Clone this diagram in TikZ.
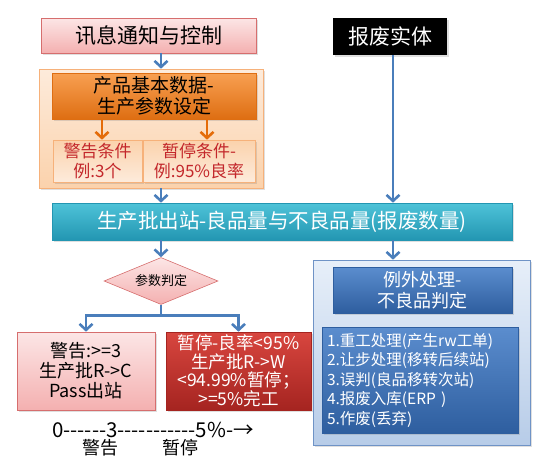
\documentclass[tikz,border=0pt]{standalone}
\usepackage{fontspec}
\setmainfont{Noto Sans CJK SC}
\usepackage{xcolor}
\usetikzlibrary{positioning}
\usetikzlibrary{arrows.meta}
\usetikzlibrary{shapes.geometric}
\usetikzlibrary{shadows}

\definecolor{flowblue}{HTML}{4A7EBB}
\definecolor{floworange}{HTML}{E46C0A}
\definecolor{pinktop}{HTML}{FCE6E6}
\definecolor{pinkbot}{HTML}{F4B0B0}
\definecolor{pinkline}{HTML}{D66E6E}
\definecolor{paletop}{HTML}{FDEBDB}
\definecolor{palebot}{HTML}{FBD2AC}
\definecolor{paleline}{HTML}{F6B17A}
\definecolor{ortop}{HTML}{F8A052}
\definecolor{orbot}{HTML}{DE6E12}
\definecolor{condred}{HTML}{C3272B}
\definecolor{cyantop}{HTML}{4EC3D8}
\definecolor{cyanbot}{HTML}{2396B2}
\definecolor{redtop}{HTML}{D8463F}
\definecolor{redbot}{HTML}{A52420}
\definecolor{ltbluetop}{HTML}{E7EFF9}
\definecolor{ltbluebot}{HTML}{B7CCE8}
\definecolor{ltblueline}{HTML}{6F93C6}
\definecolor{bluetop}{HTML}{5B8DCE}
\definecolor{bluebot}{HTML}{2E5E9F}

\newcommand{\fsz}[2]{\fontsize{#1}{#2}\selectfont}

\begin{document}
\begin{tikzpicture}[
  x=1pt, y=-1pt,
  line width=0.6pt,
  box/.style={rectangle, inner sep=0pt, align=center,
    drop shadow={opacity=0.25, shadow xshift=1.5pt, shadow yshift=-1.5pt}},
  pinkbox/.style={box, top color=pinktop, bottom color=pinkbot, draw=pinkline},
  palebox/.style={box, top color=paletop, bottom color=palebot, draw=paleline},
  orangebox/.style={box, top color=ortop, bottom color=orbot, draw=orbot},
  condbox/.style={box, top color=palebot, bottom color=paletop, draw=paleline,
    text=condred, font=\fsz{17}{20}},
  cyanbox/.style={box, top color=cyantop, bottom color=cyanbot, draw=cyanbot,
    text=white},
  redbox/.style={box, top color=redtop, bottom color=redbot, draw=redbot,
    text=white, font=\fsz{17.5}{18.5}},
  ltbluebox/.style={box, top color=ltbluetop, bottom color=ltbluebot,
    draw=ltblueline},
  bluebox/.style={box, top color=bluetop, bottom color=bluebot, draw=bluebot,
    text=white},
  flow/.style={draw=flowblue, line width=2.8pt,
    -{Straight Barb[length=6pt, width=13pt, line width=2.6pt]}},
  oflow/.style={flow, draw=floworange},
  ]

  % page size
  \useasboundingbox (0,0) rectangle (554,469);

  % top left: message and parameter setting
  \node[pinkbox, minimum width=215, minimum height=35, font=\fsz{21}{24}]
    (info) at (148.5,35.5) {讯息通知与控制};
  \node[palebox, minimum width=224, minimum height=119]
    (params) at (151,128.5) {};
  \node[orangebox, minimum width=204, minimum height=46, font=\fsz{19}{21}]
    (paramtitle) at (154,96) {产品基本数据-\\生产参数设定};
  \node[condbox, minimum width=89, minimum height=42]
    (warncond) at (97.5,161) {警告条件\\例:3个};
  \node[condbox, minimum width=112, minimum height=42]
    (stopcond) at (199,161) {暂停条件-\\例:95\%良率};

  % top right: scrapped parts
  \node[box, fill=black, text=white, minimum width=114, minimum height=37,
    font=\fsz{21}{24}] (scrap) at (390,36.5) {报废实体};

  % station out
  \node[cyanbox, minimum width=460, minimum height=37, font=\fsz{20.5}{24}]
    (station) at (282,221.5) {生产批出站-良品量与不良品量(报废数量)};

  % parameter check
  \node[diamond, aspect=2.4, inner sep=0pt, minimum width=114, minimum height=47,
    top color=pinktop, bottom color=pinkbot, draw=pinkline, font=\fsz{13}{15}]
    (judge) at (161,281) {参数判定};
  \node[pinkbox, minimum width=138, minimum height=78, font=\fsz{18}{20}]
    (warnbox) at (86,371) {警告:>=3\\生产批R->C\\Pass出站};
  \node[redbox, minimum width=145, minimum height=78]
    (stopbox) at (238.5,371)
    {暂停-良率<95\%\\生产批R->W\\<94.99\%暂停；\\>=5\%完工};

  % exceptions
  \node[ltbluebox, minimum width=217, minimum height=185]
    (except) at (421.5,352.5) {};
  \node[bluebox, minimum width=179, minimum height=46, font=\fsz{18}{21}]
    (excepttitle) at (422.5,290) {例外处理-\\不良品判定};
  \node[bluebox, minimum width=196, minimum height=106, font=\fsz{15.5}{19.5},
    align=left, text width=186] (exceptlist) at (420,380)
    {1.重工处理(产生rw工单)\\2.让步处理(移转后续站)\\3.误判(良品移转次站)\\
     4.报废入库(ERP )\\5.作废(丢弃)};

  % scale
  \node[font=\fsz{20.5}{22}] (scale) at (153,430)
    {0-{}-{}-{}-{}-{}-3-{}-{}-{}-{}-{}-{}-{}-{}-{}-{}-5\%-→};
  \node[font=\fsz{18}{20}] (scalewarn) at (100,448) {警告};
  \node[font=\fsz{18}{20}] (scalestop) at (180,448) {暂停};

  % arrows
  \draw[flow] (info.south -| judge) -- (params.north -| judge);
  \draw[flow] (params.south -| judge) -- (station.north -| judge);
  \draw[flow] (station.south -| judge) -- (judge.north);
  \draw[oflow] (paramtitle.south -| 102,0) -- (warncond.north -| 102,0);
  \draw[oflow] (paramtitle.south -| 207,0) -- (stopcond.north -| 207,0);
  \draw[flow] (scrap.south -| 393,0) -- (station.north -| 393,0);
  \draw[flow] (station.south -| 393,0) -- (except.north -| 393,0);
  \draw[flow] (judge.south) -- ++(0,11) -| (warnbox.north);
  \draw[flow] (judge.south) -- ++(0,11) -| (stopbox.north);

\end{tikzpicture}
\end{document}
